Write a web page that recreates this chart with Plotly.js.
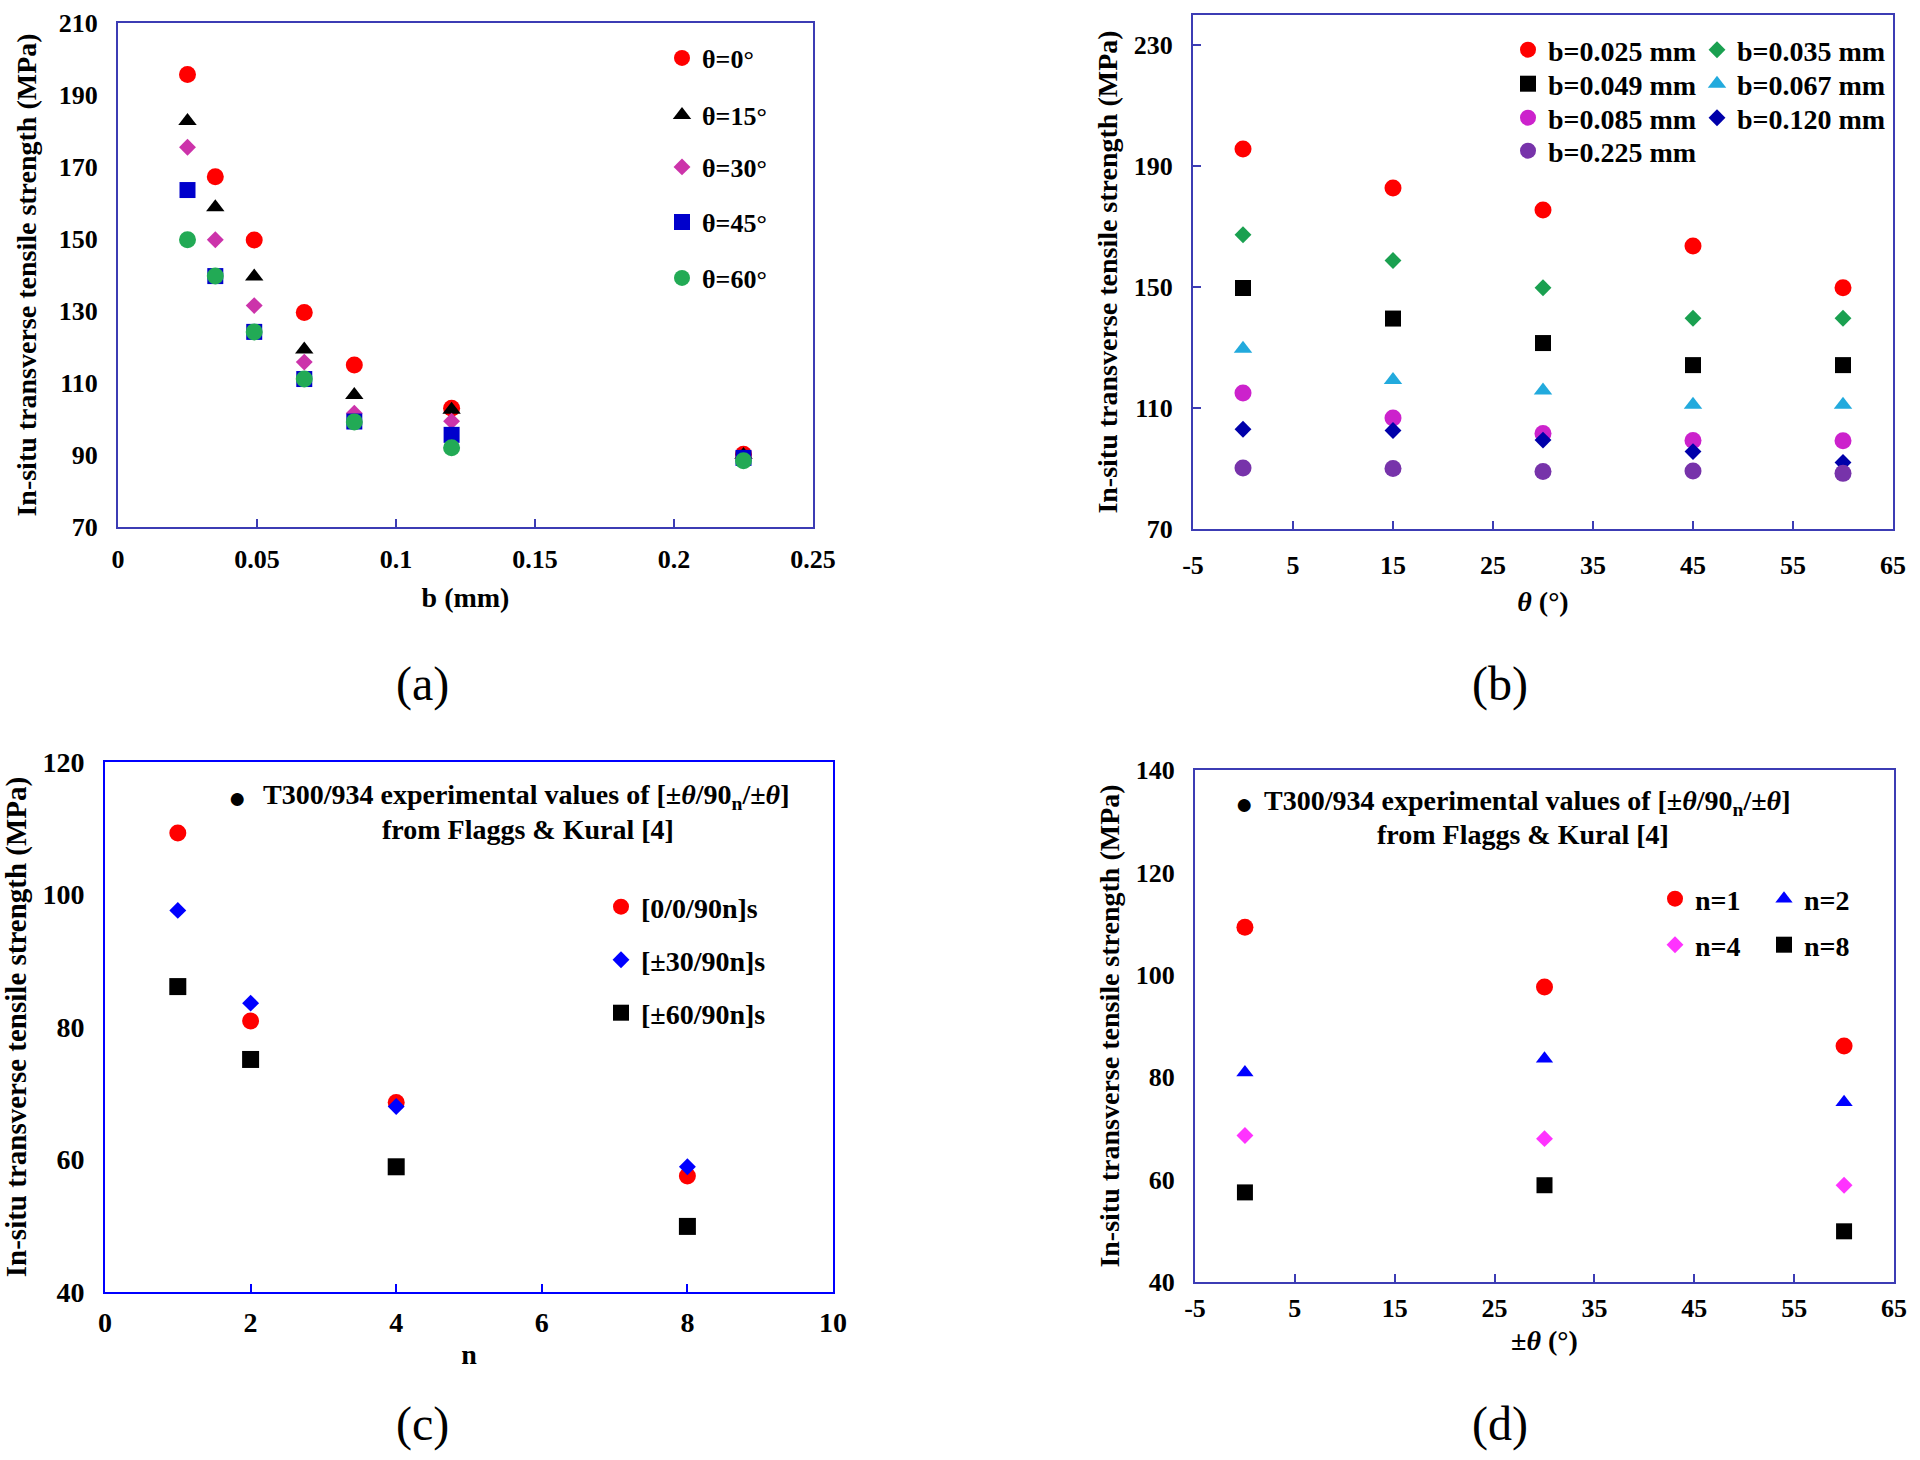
<!DOCTYPE html>
<html>
<head>
<meta charset="utf-8">
<script src="https://cdn.plot.ly/plotly-3.0.1.min.js"></script>
<style>html,body{margin:0;padding:0;background:#fff;}#chart{width:1920px;height:1460px;}</style>
</head>
<body>
<div id="chart"></div>
<script>
// ---------- DATA ----------
// Panel (a)/(b): ply thickness b (mm) and ply angle theta (deg)
const bThickness = [0.025, 0.035, 0.049, 0.067, 0.085, 0.120, 0.225];
const thetaAngles = [0, 15, 30, 45, 60];
// In-situ transverse tensile strength (MPa), one array per theta, values over bThickness
const strengthTheta0  = [195.7, 167.3, 149.7, 129.6, 115.0, 103.0, 90.2];
const strengthTheta15 = [182.8, 158.8, 139.6, 119.3, 106.7, 102.6, 90.0];
const strengthTheta30 = [175.5, 149.8, 131.5, 115.8, 101.6, 99.4, 89.0];
const strengthTheta45 = [163.6, 139.7, 124.2, 111.1, 99.3, 95.6, 89.2];
const strengthTheta60 = [149.8, 139.7, 124.2, 111.1, 99.2, 92.0, 88.4];
const thetaLabels = ['θ=0°', 'θ=15°', 'θ=30°', 'θ=45°', 'θ=60°'];
const bLabels = ['b=0.025 mm', 'b=0.035 mm', 'b=0.049 mm', 'b=0.067 mm', 'b=0.085 mm', 'b=0.120 mm', 'b=0.225 mm'];

// Panel (c)/(d): number of 90° plies n and outer ply angle ±theta
const nPlies = [1, 2, 4, 8];
const plyAngles = [0, 30, 60];
const strengthLam0  = [109.3, 80.9, 68.6, 57.5];   // [0/0/90n]s
const strengthLam30 = [97.6, 83.6, 68.0, 58.9];    // [±30/90n]s
const strengthLam60 = [86.1, 75.1, 58.9, 49.9];    // [±60/90n]s
const lamLabels = ['[0/0/90n]s', '[±30/90n]s', '[±60/90n]s'];
const nLabels = ['n=1', 'n=2', 'n=4', 'n=8'];

// Tick labels
const angleTickVals = [-5, 5, 15, 25, 35, 45, 55, 65];
const angleTickText = ['-5', '5', '15', '25', '35', '45', '55', '65'];

// ---------- STYLE ----------
const W = 1920, H = 1460;
const SERIF = 'Liberation Serif, Times New Roman, serif';
const FRAME = '#3c3cb4';
const FRAME_C = '#0000ff';
const px2x = p => p / W;
const px2y = p => 1 - p / H;

function axis(opts) {
  const a = {
    domain: opts.domain,
    range: opts.range,
    anchor: opts.anchor,
    showline: true, mirror: true, linecolor: opts.color, linewidth: 2,
    ticks: opts.ticks || '', ticklen: 8, tickwidth: 2, tickcolor: opts.color,
    showgrid: false, zeroline: false,
    tickfont: {family: SERIF, size: opts.tfs || 26, weight: 'bold', color: '#000'},
    ticklabelstandoff: opts.tso || 0,
    title: {text: opts.title, standoff: opts.standoff, font: {family: SERIF, size: opts.tifs || 28, weight: 'bold', color: '#000'}}
  };
  if (opts.dtick !== undefined) { a.dtick = opts.dtick; a.tick0 = opts.tick0; a.tickmode = 'linear'; }
  if (opts.tickvals) { a.tickmode = 'array'; a.tickvals = opts.tickvals; a.ticktext = opts.ticktext; }
  return a;
}

let legendCount = 0;
const layoutLegends = {};
function legendAt(pxX, pxY, fs) {
  legendCount += 1;
  const name = legendCount === 1 ? 'legend' : 'legend' + legendCount;
  layoutLegends[name] = {
    x: px2x(pxX - 20), y: px2y(pxY), xanchor: 'left', yanchor: 'middle',
    orientation: 'v', bgcolor: 'rgba(0,0,0,0)', borderwidth: 0,
    font: {family: SERIF, size: fs, weight: 'bold', color: '#000'}
  };
  return name;
}

const traces = [];

// ---- Panel (a)
const aSeries = [strengthTheta0, strengthTheta15, strengthTheta30, strengthTheta45, strengthTheta60];
const aSym = ['circle', 'triangle-up', 'diamond', 'square', 'circle'];
const aCol = ['#ff0000', '#000000', '#cc33aa', '#0000cc', '#22aa55'];
const aSize = [17, 16, 13, 16, 17];
const aLegY = [58, 115, 167, 222, 278];
aSeries.forEach((ys, i) => {
  traces.push({
    x: bThickness, y: ys, xaxis: 'x', yaxis: 'y', type: 'scatter', mode: 'markers',
    name: thetaLabels[i], legend: legendAt(682, aLegY[i], 26),
    marker: {symbol: aSym[i], color: aCol[i], size: aSize[i], line: {width: 0}}
  });
});

// ---- Panel (b)
const bSym = ['circle', 'diamond', 'square', 'triangle-up', 'circle', 'diamond', 'circle'];
const bCol = ['#ff0000', '#1aa050', '#000000', '#22aadd', '#cc22cc', '#0000aa', '#7733aa'];
const bSize = [17, 13, 16, 16, 17, 13, 17];
const bLegX = [1528, 1717, 1528, 1717, 1528, 1717, 1528];
const bLegY = [50, 50, 84, 84, 118, 118, 151];
bThickness.forEach((b, j) => {
  traces.push({
    x: thetaAngles, y: aSeries.map(s => s[j]), xaxis: 'x2', yaxis: 'y2', type: 'scatter', mode: 'markers',
    name: bLabels[j], legend: legendAt(bLegX[j], bLegY[j], 28),
    marker: {symbol: bSym[j], color: bCol[j], size: bSize[j], line: {width: 0}}
  });
});

// ---- Panel (c)
const cSeries = [strengthLam0, strengthLam30, strengthLam60];
const cSym = ['circle', 'diamond', 'square'];
const cCol = ['#ff0000', '#0000ff', '#000000'];
const cSize = [17, 13, 17];
const cLegY = [907, 960, 1013];
cSeries.forEach((ys, i) => {
  traces.push({
    x: nPlies, y: ys, xaxis: 'x3', yaxis: 'y3', type: 'scatter', mode: 'markers',
    name: lamLabels[i], legend: legendAt(621, cLegY[i], 28),
    marker: {symbol: cSym[i], color: cCol[i], size: cSize[i], line: {width: 0}}
  });
});

// ---- Panel (d)
const dSym = ['circle', 'triangle-up', 'diamond', 'square'];
const dCol = ['#ff0000', '#0000ff', '#ff33ff', '#000000'];
const dSize = [17, 15, 13, 16];
const dLegX = [1675, 1784, 1675, 1784];
const dLegY = [899, 899, 945, 945];
nPlies.forEach((n, k) => {
  traces.push({
    x: plyAngles, y: cSeries.map(s => s[k]), xaxis: 'x4', yaxis: 'y4', type: 'scatter', mode: 'markers',
    name: nLabels[k], legend: legendAt(dLegX[k], dLegY[k], 28),
    marker: {symbol: dSym[k], color: dCol[k], size: dSize[k], line: {width: 0}}
  });
});

const yTitle = 'In-situ transverse tensile strength (MPa)';
const expText = 'T300/934 experimental values of [±<i>θ</i>/90<sub>n</sub>/±<i>θ</i>]';
const srcText = 'from Flaggs &amp; Kural [4]';

function ann(text, pxX, pxY, fs, xanchor, bold) {
  return {
    text: text, xref: 'paper', yref: 'paper', x: px2x(pxX), y: px2y(pxY),
    xanchor: xanchor, yanchor: 'middle', showarrow: false,
    font: {family: SERIF, size: fs, weight: bold ? 'bold' : 'normal', color: '#000'}
  };
}

const layout = Object.assign({
  width: W, height: H,
  margin: {l: 0, r: 0, t: 0, b: 0},
  paper_bgcolor: '#ffffff', plot_bgcolor: '#ffffff',
  showlegend: true,
  xaxis: axis({domain: [px2x(118), px2x(813)], range: [0, 0.25], dtick: 0.05, tick0: 0, anchor: 'y', color: FRAME, ticks: 'inside', title: 'b (mm)', standoff: 14, tso: 8}),
  yaxis: axis({domain: [px2y(527), px2y(23)], range: [70, 210], dtick: 20, tick0: 70, anchor: 'x', color: FRAME, title: yTitle, standoff: 14, tso: 13}),
  xaxis2: axis({domain: [px2x(1193), px2x(1893)], range: [-5, 65], tickvals: angleTickVals, ticktext: angleTickText, anchor: 'y2', color: FRAME, ticks: 'inside', title: '<i>θ</i> (°)', standoff: 12, tso: 12}),
  yaxis2: axis({domain: [px2y(529), px2y(15)], range: [70, 240], dtick: 40, tick0: 70, anchor: 'x2', color: FRAME, ticks: 'inside', title: yTitle, standoff: 8, tso: 13}),
  xaxis3: axis({domain: [px2x(105), px2x(833)], range: [0, 10], dtick: 2, tick0: 0, anchor: 'y3', color: FRAME_C, ticks: 'inside', title: 'n', standoff: 8, tso: 4, tfs: 28, tifs: 28}),
  yaxis3: axis({domain: [px2y(1292), px2y(762)], range: [40, 120], dtick: 20, tick0: 40, anchor: 'x3', color: FRAME_C, title: yTitle, standoff: 10, tso: 13, tfs: 28, tifs: 29}),
  xaxis4: axis({domain: [px2x(1195), px2x(1894)], range: [-5, 65], tickvals: angleTickVals, ticktext: angleTickText, anchor: 'y4', color: FRAME, ticks: 'inside', title: '±<i>θ</i> (°)', standoff: 8, tso: 2}),
  yaxis4: axis({domain: [px2y(1282), px2y(770)], range: [40, 140], dtick: 20, tick0: 40, anchor: 'x4', color: FRAME, title: yTitle, standoff: 8, tso: 13}),
  annotations: [
    ann('(a)', 422, 684, 48, 'center', false),
    ann('(b)', 1500, 684, 48, 'center', false),
    ann('(c)', 422, 1424, 48, 'center', false),
    ann('(d)', 1500, 1424, 48, 'center', false),
    ann('●', 237, 797, 30, 'center', false),
    ann(expText, 261, 796, 28, 'left', true),
    ann(srcText, 528, 829, 28, 'center', true),
    ann('●', 1244, 803, 30, 'center', false),
    ann(expText, 1262, 802, 28, 'left', true),
    ann(srcText, 1523, 834, 28, 'center', true)
  ]
}, layoutLegends);

Plotly.newPlot('chart', traces, layout, {staticPlot: true, displayModeBar: false});
</script>
</body>
</html>
